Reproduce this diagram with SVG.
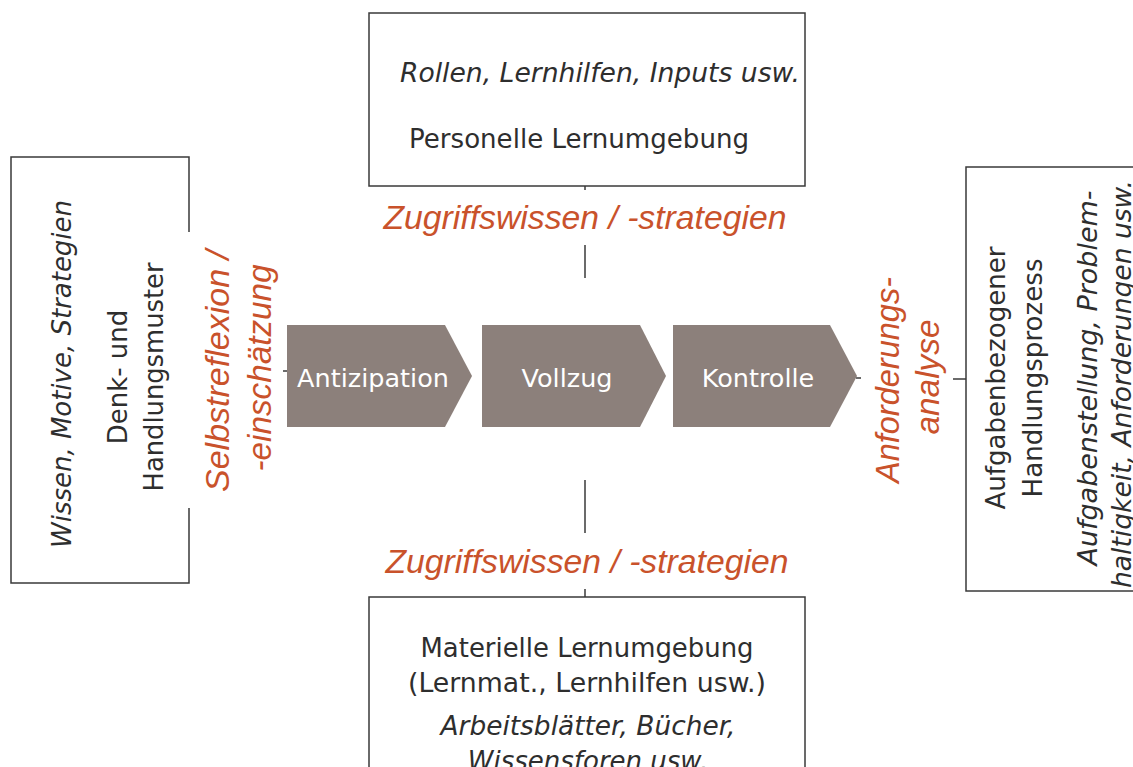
<svg xmlns="http://www.w3.org/2000/svg" width="1133" height="767" viewBox="0 0 1133 767">
  <style>
    .box { fill: #ffffff; stroke: #3a3a3a; stroke-width: 1.5; }
    .line { stroke: #3a3a3a; stroke-width: 1.5; fill: none; }
    .dark { font-family: "DejaVu Sans", "Liberation Sans", sans-serif; font-size: 26px; fill: #2e2e2e; text-anchor: middle; }
    .it { font-style: italic; }
    .accent { font-family: "Liberation Sans", Arial, sans-serif; font-style: italic; font-size: 33.5px; fill: #c9522b; text-anchor: middle; }
    .step { fill: #8c807b; }
    .stepText { font-family: "DejaVu Sans", "Liberation Sans", sans-serif; font-size: 25.5px; fill: #ffffff; text-anchor: middle; }
  </style>

  <rect width="1133" height="767" fill="#ffffff"/>

  <!-- connectors -->
  <g id="connectors">
    <line class="line" x1="585" y1="186" x2="585" y2="190"/>
    <line class="line" x1="585" y1="245" x2="585" y2="278"/>
    <line class="line" x1="585" y1="480" x2="585" y2="533"/>
    <line class="line" x1="585" y1="589" x2="585" y2="597"/>
    <line class="line" x1="283" y1="371" x2="288" y2="371"/>
    <line class="line" x1="856" y1="378" x2="861" y2="378"/>
    <line class="line" x1="953" y1="379" x2="966" y2="379"/>
  </g>

  <!-- personal learning environment -->
  <g id="personelle">
    <rect class="box" x="369" y="13" width="436" height="173"/>
    <text class="dark it" x="600" y="82" textLength="400" lengthAdjust="spacingAndGlyphs">Rollen, Lernhilfen, Inputs usw.</text>
    <text class="dark" x="579" y="148" textLength="340" lengthAdjust="spacingAndGlyphs">Personelle Lernumgebung</text>
  </g>

  <g id="label-top">
    <text class="accent" x="585" y="229" textLength="403" lengthAdjust="spacingAndGlyphs">Zugriffswissen / -strategien</text>
  </g>

  <!-- thinking and action patterns -->
  <g id="denkmuster">
    <path class="box" d="M189,232 V157 H11 V583 H189 V508"/>
    <text class="dark it" transform="translate(71,374) rotate(-90)" x="0" y="0" textLength="348" lengthAdjust="spacingAndGlyphs">Wissen, Motive, Strategien</text>
    <text class="dark" transform="translate(127,377) rotate(-90)" x="0" y="0">Denk- und</text>
    <text class="dark" transform="translate(163,377) rotate(-90)" x="0" y="0" textLength="229" lengthAdjust="spacingAndGlyphs">Handlungsmuster</text>
  </g>

  <g id="label-left">
    <text class="accent" transform="translate(229,371) rotate(-90)" x="0" y="0" textLength="242" lengthAdjust="spacingAndGlyphs">Selbstreflexion /</text>
    <text class="accent" transform="translate(271,368) rotate(-90)" x="0" y="0" textLength="207" lengthAdjust="spacingAndGlyphs">-einschätzung</text>
  </g>

  <!-- process steps -->
  <g id="antizipation">
    <polygon class="step" points="287,325 445,325 472,376 445,427 287,427"/>
    <text class="stepText" x="373" y="387">Antizipation</text>
  </g>
  <g id="vollzug">
    <polygon class="step" points="482,325 640,325 666,376 640,427 482,427"/>
    <text class="stepText" x="567" y="387">Vollzug</text>
  </g>
  <g id="kontrolle">
    <polygon class="step" points="673,325 830,325 857,376 830,427 673,427"/>
    <text class="stepText" x="758" y="387">Kontrolle</text>
  </g>

  <g id="label-right">
    <text class="accent" transform="translate(899,380) rotate(-90)" x="0" y="0" textLength="206" lengthAdjust="spacingAndGlyphs">Anforderungs-</text>
    <text class="accent" transform="translate(939,377) rotate(-90)" x="0" y="0" textLength="115" lengthAdjust="spacingAndGlyphs">analyse</text>
  </g>

  <!-- task-related action process -->
  <g id="handlungsprozess">
    <rect class="box" x="966" y="167" width="180" height="424"/>
    <text class="dark" transform="translate(1005,378) rotate(-90)" x="0" y="0" textLength="263" lengthAdjust="spacingAndGlyphs">Aufgabenbezogener</text>
    <text class="dark" transform="translate(1042,378) rotate(-90)" x="0" y="0" textLength="239" lengthAdjust="spacingAndGlyphs">Handlungsprozess</text>
    <text class="dark it" transform="translate(1097,378) rotate(-90)" x="0" y="0" textLength="375" lengthAdjust="spacingAndGlyphs">Aufgabenstellung, Problem-</text>
    <text class="dark it" transform="translate(1131,384) rotate(-90)" x="0" y="0" textLength="408" lengthAdjust="spacingAndGlyphs">haltigkeit, Anforderungen usw.</text>
  </g>

  <g id="label-bottom">
    <text class="accent" x="587" y="573" textLength="403" lengthAdjust="spacingAndGlyphs">Zugriffswissen / -strategien</text>
  </g>

  <!-- material learning environment -->
  <g id="materielle">
    <rect class="box" x="369" y="597" width="436" height="200"/>
    <text class="dark" x="587" y="657" textLength="333" lengthAdjust="spacingAndGlyphs">Materielle Lernumgebung</text>
    <text class="dark" x="587" y="692" textLength="358" lengthAdjust="spacingAndGlyphs">(Lernmat., Lernhilfen usw.)</text>
    <text class="dark it" x="588" y="735" textLength="295" lengthAdjust="spacingAndGlyphs">Arbeitsblätter, Bücher,</text>
    <text class="dark it" x="588" y="770">Wissensforen usw.</text>
  </g>
</svg>
